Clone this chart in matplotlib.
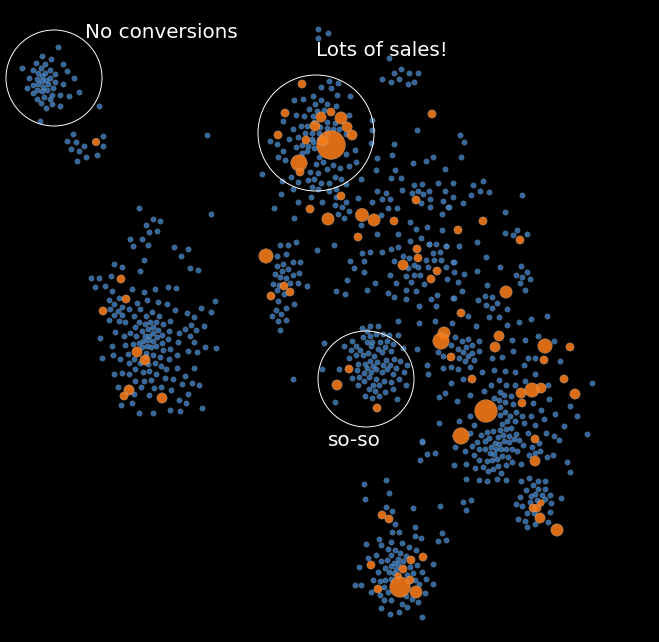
from matplotlib import pyplot as plt
from numpy import array, vstack

no_conv = [(58,47),(42,56),(51,59),(36,63),(45,64),(63,64),(22,68),(41,68),(33,70),(50,70),(67,71),(38,73),(45,73),(55,74),(42,76),(29,78),(37,79),(50,78),(74,78),(42,81),(46,80),(55,82),(33,85),(38,84),(48,84),(63,84),(27,88),(43,87),(53,88),(37,90),(42,91),(47,90),(33,93),(79,92),(52,95),(60,95),(69,96),(37,99),(44,97),(50,99),(41,103),(52,104),(46,108),(60,106),(99,106),(40,121),
    (73,134),(103,136),(67,141),(76,142),(84,146),(103,146),(71,149),(79,151),(97,155),(86,157),(77,161),(207,135)]

left = [(139,208),(211,214),(153,219),(160,221),(146,225),(157,231),(149,232),(130,239),(142,239),(133,246),(148,245),(174,247),(188,249),(181,256),(144,260),(114,264),(122,267),(190,268),(198,270),(140,271),(111,276),(91,278),(99,278),(95,287),(105,286),(112,291),(132,289),(144,292),(155,289),(168,287),(176,288),(109,300),(119,298),(147,300),(158,302),(215,301),(114,304),(137,303),(167,304),(122,307),(110,309),(118,311),(129,309),(140,309),(201,308),(175,310),(211,312),(114,315),(122,315),(134,316),(152,312),(187,313),(146,316),(159,316),(194,317),(109,320),(119,321),(125,322),(139,322),(150,322),(156,322),(170,321),(163,324),(145,324),(204,326),(191,325),(135,327),(153,327),(185,329),(148,329),(169,331),(158,330),(196,330),(142,331),(115,332),(130,333),(179,333),(153,333),(162,335),(190,336),(100,338),(124,336),(136,336),(145,336),(149,336),(157,337),(168,339),(143,341),(153,341),(162,343),(139,343),(148,340),(178,342),(194,342),(125,345),(133,344),(147,346),(156,346),(112,346),(142,347),(151,347),(205,347),(216,348),(163,350),(170,349),(188,351),(197,352),(128,354),(146,353),(153,355),(113,355),(177,355),(102,358),(160,357),(120,359),(134,359),(146,357),(169,359),(129,363),(140,363),(148,364),(155,363),(161,366),(177,368),(166,369),(194,368),(135,369),(143,372),(149,371),(114,374),(122,373),(129,374),(156,374),(185,376),(165,378),(173,379),(135,381),(144,381),(151,380),(182,384),(192,383),(199,385),(141,387),(154,388),(161,387),(118,387),(171,390),(134,394),(149,395),(188,394),(179,400),(132,403),(186,403),(121,405),(202,408),(170,410),(180,411),(139,413),(153,413)]

sales = [(318,29),(328,33),(318,38),(389,58),(401,69),(394,73),(409,73),(418,73),(382,79),(399,79),(391,82),(414,82),(408,84),
    (329,81),(338,83),(321,87),(331,88),(313,96),(337,95),(350,96),(294,100),(303,99),(321,100),(315,104),(327,104),(336,106),(309,109),(317,111),(324,110),(296,115),(304,116),(313,116),(349,115),(283,121),(372,120),(314,122),(327,122),(335,123),(293,129),(301,126),(307,126),(320,127),(327,128),(333,129),(339,129),(372,130),(305,133),(312,133),(319,133),(327,133),(346,134),(298,137),(289,139),(312,139),(319,139),(270,141),(302,145),(313,142),(277,144),(296,147),(308,146),(371,143),(314,148),(283,151),(307,151),(355,150),(394,144),(278,157),(302,153),(319,157),(346,154),(392,155),(377,158),(285,160),(316,164),(323,162),(333,165),(340,168),(327,169),(349,166),(356,162),(376,170),(413,163),(426,161),(433,157),(445,169),(395,170),(262,174),(310,172),(318,173),(291,177),(335,177),(341,179),(391,178),(401,178),(314,179),(308,180),(361,179),(282,181),(298,182),(321,183),(329,183),(346,184),(438,183),(414,185),(422,184),(312,187),(293,189),(318,189),(336,189),(329,191),(402,190),(377,191),(386,193),(412,193),(418,191),(423,194),(429,191),(445,191),(281,194),(311,197),(336,197),(358,198),(382,199),(390,199),(430,199),(443,201),(298,202),(322,202),(346,202),(335,205),(372,202),(421,203),(448,207),(342,207),(388,208),(397,208),(430,207),(274,208)]

middle = [(294,218),(338,214),(344,218),(349,211),(381,215),(361,225),(410,222),(416,229),(427,227),(442,230),(377,234),(398,234),(421,238),(410,241),(429,244),(436,244),(446,246),(296,242),(280,245),(288,245),(317,250),(334,245),(391,249),(398,247),(370,252),(382,252),(362,253),(433,253),(440,252),(277,256),(286,254),(403,256),(409,258),(350,261),(364,261),(394,261),(426,260),(434,260),(441,260),(453,262),(283,264),(293,262),(300,262),(277,266),(414,265),(418,267),(428,267),(446,267),(288,269),(354,268),(282,271),(408,268),(364,272),(299,273),(275,274),(293,275),(390,275),(406,276),(414,275),(420,275),(280,277),(286,278),(447,279),(347,280),(273,284),(290,283),(298,283),(375,283),(396,283),(411,282),(424,284),(279,285),(307,286),(277,290),(367,290),(336,291),(406,290),(416,291),(284,294),(345,294),(388,293),(437,295),(394,297),(406,299),(431,299),(453,298),(278,301),(294,304),(419,306),(436,306),(286,308),(276,310),(272,316),(281,314),(278,321),(286,320),(398,321),(419,323),(435,321),(452,323),(280,330)]

so_so = [(362,328),(370,326),(378,326),(367,331),(376,334),(363,337),(370,336),(383,334),(389,335),(398,335),(324,343),(352,341),(367,342),(372,342),(380,342),(387,341),(393,344),(344,346),(356,346),(371,346),(385,347),(403,348),(417,349),(351,350),(360,350),(378,349),(382,352),(391,351),(356,355),(363,355),(368,353),(374,356),(349,358),(370,361),(377,362),(386,360),(394,359),(400,361),(358,364),(365,364),(407,365),(427,365),(373,366),(383,365),(390,365),(367,368),(376,369),(387,369),(396,368),(322,369),(339,369),(357,370),(382,372),(393,374),(371,372),(404,372),(364,373),(428,374),(293,379),(352,378),(359,377),(369,377),(376,379),(399,379),(384,381),(391,382),(364,381),(358,385),(373,385),(379,385),(406,385),(369,389),(393,389),(375,391),(385,392),(365,396),(379,396),(372,398),(397,399),(335,402),(439,397),(439,423),(422,442)]

upper_right = [(417,130),(460,135),(464,142),(461,157),(453,183),(473,185),(483,181),(480,191),(489,192),(471,195),(522,195),(453,197),(463,203),(449,207),(442,214),(505,212),(505,233),(517,230),(513,235),(527,234),(477,242),(429,244),(446,246),(459,246),(486,257),(454,262),(500,267),(477,271),(454,272),(464,274),(521,266),(527,272),(516,275),(522,277),(530,279),(458,282),(487,285),(520,283),(525,290),(462,291),(454,298),(485,296),(492,297),(478,300),(497,303),(486,305),(492,308),(507,309),(468,316),(489,317),(499,317),(547,316),(531,319)]

right = [(519,322),(476,326),(507,325),(538,336),(455,337),(468,339),(462,341),(479,341),(525,340),(512,340),(554,341),(451,345),(472,345),(466,347),(458,349),(463,352),(479,351),(513,351),(438,352),(472,353),(443,356),(468,356),(459,358),(474,360),(492,358),(502,357),(528,358),(535,358),(465,361),(560,361),(524,365),(443,368),(451,367),(470,367),(458,369),(482,372),(494,370),(505,371),(515,372),(535,374),(463,379),(499,380),(525,381),(451,383),(491,385),(506,385),(515,385),(548,385),(592,383),(484,391),(500,392),(504,395),(511,396),(445,393),(470,395),(494,398),(499,400),(505,402),(513,404),(533,403),(549,399),(457,401),(570,406),(500,407),(541,410),(555,414),(505,412),(516,412),(470,416),(500,415),(510,416),(522,416),(531,416),(577,416),(544,419),
    (459,421),(474,425),(502,424),(507,421),(515,421),(524,423),(535,425),(564,426),(493,431),(487,432),(500,430),(506,429),(511,428),(516,434),(528,433),(546,433),(554,436),(587,434),(470,433),(481,435),(489,438),(498,437),(503,435),(509,436),(514,439),(519,440),(559,440),(422,441),(477,442),(485,441),(495,443),(504,441),(509,442),(539,443),(523,445),(472,446),(491,447),(499,444),(532,447),(455,447),(479,449),(485,449),(496,449),(501,449),(506,449),(512,449),(465,451),(517,451),(540,451),(490,453),(494,454),(535,453),(435,453),(427,454),(474,455),(502,456),(508,457),(529,455),(553,455),(547,457),(420,460),(479,460),(487,461),(492,460),(497,459),(512,462),(567,462),(521,464),(454,465),(466,464),(506,465),(498,466),(475,468),(483,467),(570,472),(488,471),(493,469),(501,473),(466,479),(479,480),(487,481),(497,479),(506,480),
    (521,481),(529,478),(538,481),(545,481),(533,485),(526,490),(538,489),(545,489),(550,495),(535,494),(531,496),(542,495),(561,498),(520,497),(545,499),(471,500),(463,502),(537,500),(551,503),(530,502),(516,504),(522,506),(527,513),(550,512),(534,513),(518,519),(525,521),(548,522),(535,524),(527,527),(466,510)]

bottom = [(386,480),(364,484),(389,493),(365,499),(386,507),(440,506),(392,511),(413,508),(395,524),(415,527),(392,532),(399,532),(442,533),(415,536),(421,538),(446,540),(438,541),(379,539),(366,544),(381,545),(391,542),(402,543),(409,547),(388,549),(395,550),(416,550),(376,555),(400,553),(391,555),(406,556),(368,558),(381,561),(387,560),(398,559),(403,561),(394,563),(417,565),(433,564),(359,567),(391,566),(398,564),(385,568),(410,567),(396,569),(378,572),(389,572),(422,572),(413,573),(394,573),(407,575),(373,580),(385,580),(380,581),(391,579),(415,580),(426,579),(419,584),(433,584),(355,585),(361,585),(384,587),(371,592),(388,592),(380,595),(425,593),(406,596),(412,599),(384,600),(391,600),(418,602),(402,604),(407,607),(381,608),(390,614),(399,612),(422,617)]

# conversions: x, y, amount
conv_x = [96,121,126,103,137,145,129,124,162,302,285,331,321,341,315,347,352,278,306,331,323,299,300,341,416,432,310,266,284,290,271,328,362,374,394,358,417,418,403,437,431,349,337,377,483,458,520,506,461,444,441,451,499,495,545,570,544,472,564,541,532,521,522,575,486,461,535,535,533,537,541,540,557,382,389,411,423,371,403,398,410,400,378,416]
conv_y = [142,279,299,311,352,360,390,396,398,84,113,112,117,118,126,127,135,135,140,145,141,163,172,196,200,114,209,256,286,292,296,219,215,220,221,237,249,258,265,271,279,369,385,408,221,230,240,292,313,333,341,357,336,347,346,347,360,379,379,388,390,393,403,394,411,436,439,461,508,508,503,518,530,515,519,560,557,565,569,576,580,587,589,592]
conv_val = [14,16,16,16,25,25,25,16,25,16,16,16,25,36,25,25,25,16,16,196,25,64,16,16,16,16,16,49,16,16,16,36,42,36,16,16,16,16,25,16,16,16,25,16,16,16,16,36,16,36,64,16,25,25,49,16,16,16,16,25,49,25,16,25,121,64,16,25,16,16,10,25,36,16,16,16,16,16,16,12,16,100,16,36]

circle_x = [54, 316, 366]
circle_y = [78, 133, 379]
circle_r = [48, 58, 48]

notes = ['No conversions', 'Lots of sales!', 'so-so']
note_x = [85, 316, 328]
note_y = [32, 51, 441]

points = vstack([array(p) for p in (no_conv, left, sales, middle, so_so, upper_right, right, bottom)])

fig = plt.figure(figsize=(6.59, 6.42), dpi=100, facecolor='black')
axs = fig.add_axes([0, 0, 1, 1])
axs.set(xlim=(0, 659), ylim=(642, 0), facecolor='black')
axs.axis('off')

axs.scatter(points[:, 0], points[:, 1], s=15, c='#3f82c8', alpha=0.8,
            edgecolors='#b0b0b0', linewidths=0.2)
axs.scatter(conv_x, conv_y, s=[v * 2.2 for v in conv_val], c='#f87c18', alpha=0.88,
            edgecolors='#b0b0b0', linewidths=0.3)

for cx, cy, r in zip(circle_x, circle_y, circle_r):
    axs.add_patch(plt.Circle((cx, cy), r, fill=False, ec='white', lw=0.7))

for text, tx, ty in zip(notes, note_x, note_y):
    axs.text(tx, ty, text, color='white', fontsize=14.3, ha='left', va='center')

fig.savefig('out.png', dpi=100, facecolor='black')
